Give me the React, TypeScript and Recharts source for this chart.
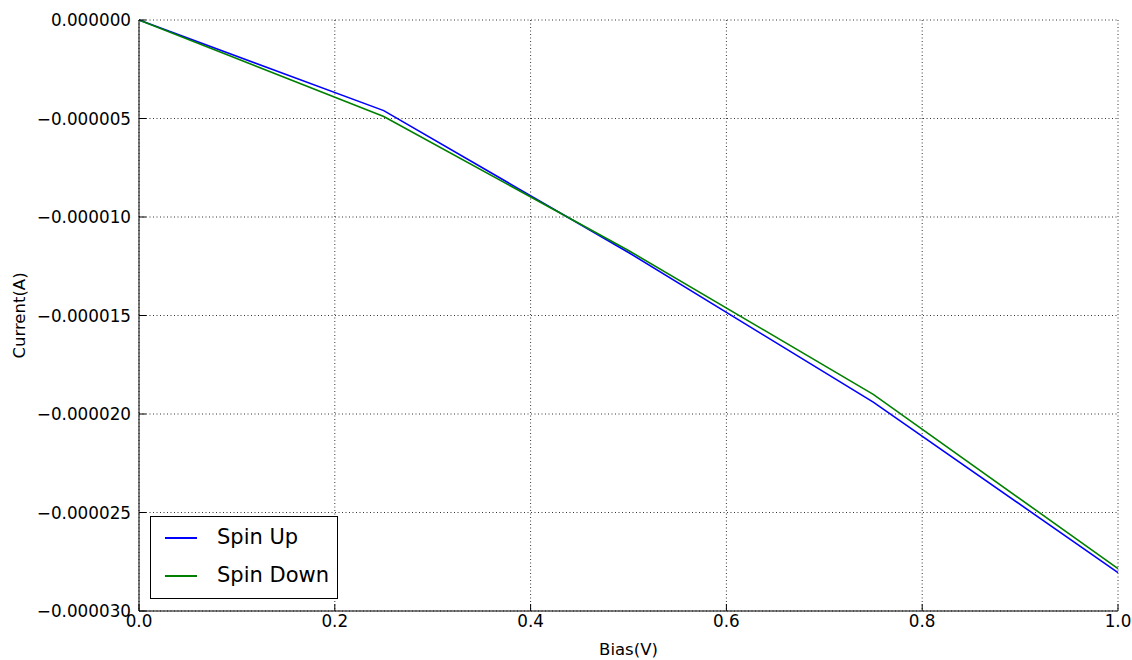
import React from "react";
import { LineChart, Line, XAxis, YAxis, CartesianGrid } from "recharts";

const bias = [0, 0.25, 0.5, 0.75, 1.0];
const spinUp = [0, -4.6e-6, -1.18e-5, -1.94e-5, -2.805e-5];
const spinDown = [0, -4.9e-6, -1.17e-5, -1.9e-5, -2.785e-5];
const xTicks = [0, 0.2, 0.4, 0.6, 0.8, 1.0];
const yTicks = [0, -5e-6, -1e-5, -1.5e-5, -2e-5, -2.5e-5, -3e-5];
const seriesNames = ["Spin Up", "Spin Down"];
const seriesColors = ["#0000ff", "#008000"];

const data = bias.map((b, i) => ({ bias: b, up: spinUp[i], down: spinDown[i] }));

const FONT = "DejaVu Sans";

const fmtY = (v: number) => {
  if (Math.abs(v) < 1e-12) return "0.000000";
  return "\u2212" + Math.abs(v).toFixed(6);
};

const LeftTick = (props: any) => {
  const { x, y, payload } = props;
  return (
    <g>
      <line x1={x + 8} x2={x + 15} y1={y} y2={y} stroke="#000" strokeWidth={1} />
      <text x={x} y={y} textAnchor="end" dominantBaseline="central" fontSize={16.8} fontFamily={FONT} fill="#000">
        {fmtY(payload.value)}
      </text>
    </g>
  );
};

const RightTick = (props: any) => {
  const { x, y } = props;
  return <line x1={x - 7} x2={x} y1={y} y2={y} stroke="#000" strokeWidth={1} />;
};

const BottomTick = (props: any) => {
  const { x, y, payload } = props;
  return (
    <g>
      <line x1={x} x2={x} y1={y - 3} y2={y - 10} stroke="#000" strokeWidth={1} />
      <text x={x} y={y} textAnchor="middle" dominantBaseline="hanging" fontSize={16.8} fontFamily={FONT} fill="#000">
        {Number(payload.value).toFixed(1)}
      </text>
    </g>
  );
};

const TopTick = (props: any) => {
  const { x, y } = props;
  return <line x1={x} x2={x} y1={y} y2={y + 7} stroke="#000" strokeWidth={1} />;
};

const YLabel = (props: any) => {
  const vb = props.viewBox || { x: 0, y: 20, height: 591 };
  const cx = 19;
  const cy = vb.y + vb.height / 2;
  return (
    <text x={cx} y={cy} transform={`rotate(-90 ${cx} ${cy})`} textAnchor="middle" dominantBaseline="central" fontSize={16.5} fontFamily={FONT} fill="#000">
      Current(A)
    </text>
  );
};

export default function App() {
  return (
    <div style={{ position: "absolute", left: 0, top: 0, width: 1132, height: 660, background: "#fff", fontFamily: FONT }}>
      <LineChart width={1132} height={660} data={data} margin={{ top: 20, right: 14, bottom: 0, left: 0 }}>
        <CartesianGrid xAxisId="b" yAxisId="l" stroke="#000" strokeWidth={0.8} strokeDasharray="1 2.5" />
        <XAxis
          xAxisId="b"
          dataKey="bias"
          type="number"
          domain={[0, 1]}
          ticks={xTicks}
          orientation="bottom"
          height={49}
          tickSize={0}
          tickMargin={3}
          tick={<BottomTick />}
          axisLine={{ stroke: "#000", strokeWidth: 1 }}
          tickLine={false}
          interval={0}
          label={{ value: "Bias(V)", position: "insideBottom", offset: 5, fontSize: 16.5, fontFamily: FONT, fill: "#000" }}
        />
        <XAxis
          xAxisId="t"
          dataKey="bias"
          type="number"
          domain={[0, 1]}
          ticks={xTicks}
          orientation="top"
          height={0}
          tickSize={0}
          tickMargin={0}
          tick={<TopTick />}
          axisLine={{ stroke: "#000", strokeWidth: 1 }}
          tickLine={false}
          interval={0}
        />
        <YAxis
          yAxisId="l"
          type="number"
          domain={[-3e-5, 0]}
          ticks={yTicks}
          orientation="left"
          width={139}
          tickSize={0}
          tickMargin={8}
          tick={<LeftTick />}
          axisLine={{ stroke: "#000", strokeWidth: 1 }}
          tickLine={false}
          interval={0}
          label={<YLabel />}
        />
        <YAxis
          yAxisId="r"
          type="number"
          domain={[-3e-5, 0]}
          ticks={yTicks}
          orientation="right"
          width={0}
          tickSize={0}
          tickMargin={0}
          tick={<RightTick />}
          axisLine={{ stroke: "#000", strokeWidth: 1 }}
          tickLine={false}
          interval={0}
        />
        <Line xAxisId="b" yAxisId="l" type="linear" dataKey="up" name={seriesNames[0]} stroke={seriesColors[0]} strokeWidth={1.6} dot={false} isAnimationActive={false} />
        <Line xAxisId="b" yAxisId="l" type="linear" dataKey="down" name={seriesNames[1]} stroke={seriesColors[1]} strokeWidth={1.6} dot={false} isAnimationActive={false} />
      </LineChart>
      <div
        style={{
          position: "absolute",
          left: 150,
          top: 516,
          width: 188,
          height: 83,
          border: "1px solid #000",
          boxSizing: "border-box",
          background: "#fff",
        }}
      >
        {seriesNames.map((name, i) => (
          <div key={name} style={{ position: "absolute", left: 0, top: i === 0 ? 4 : 42, height: 34 }}>
            <div style={{ position: "absolute", left: 14, top: 16, width: 32, height: 2, background: seriesColors[i] }} />
            <span style={{ position: "absolute", left: 66, top: 3, fontSize: 21, lineHeight: "26px", whiteSpace: "nowrap", color: "#000" }}>{name}</span>
          </div>
        ))}
      </div>
    </div>
  );
}
